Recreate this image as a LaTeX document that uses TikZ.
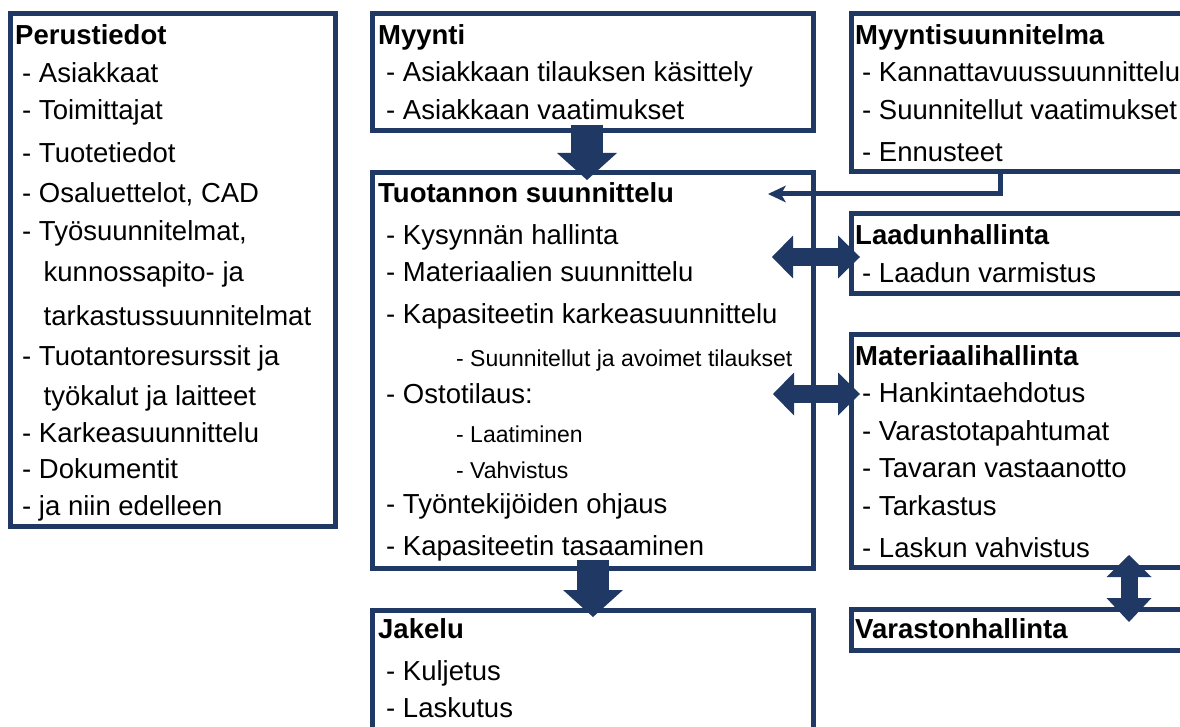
\documentclass[tikz,border=0pt]{standalone}
\usepackage{fontspec}
\setmainfont{Liberation Sans}
\usetikzlibrary{arrows.meta,calc}
\definecolor{navy}{HTML}{1F3864}
\tikzset{
  box/.style={draw=navy, line width=5pt, fill=white, inner sep=0pt, outer sep=0pt, anchor=north west},
  ttl/.style={anchor=base west, inner sep=0pt, font=\fontsize{27.5}{30}\selectfont\bfseries},
  itm/.style={anchor=base west, inner sep=0pt, font=\fontsize{27.5}{30}\selectfont},
  sml/.style={anchor=base west, inner sep=0pt, font=\fontsize{23}{26}\selectfont},
  fatdown/.style={draw=navy, line width=32pt, -{Triangle[length=27pt,width=60pt,line width=0pt]}},
  fatboth/.style={draw=navy, line width=18pt, {Triangle[length=21pt,width=43pt,line width=0pt]}-{Triangle[length=22pt,width=43pt,line width=0pt]}},
  fatvert/.style={draw=navy, line width=17pt, {Triangle[length=22pt,width=45pt,line width=0pt]}-{Triangle[length=24pt,width=45pt,line width=0pt]}},
  thinline/.style={draw=navy, line width=5pt},
  thinhead/.style={fill=navy, draw=none}
}
\begin{document}
\begin{tikzpicture}[x=1pt,y=-1pt]
\clip (0,0) rectangle (1180,727);
\fill[white] (0,0) rectangle (1180,727);
% boxes
\node[box, minimum width=325pt, minimum height=512pt] (perus) at (10,14) {};
\node[box, minimum width=441pt, minimum height=117pt] (myynti) at (372,14) {};
\node[box, minimum width=441pt, minimum height=395pt] (tuot) at (372,173) {};
\node[box, minimum width=441pt, minimum height=130pt] (jakelu) at (372,610) {};
\node[box, minimum width=345pt, minimum height=158pt] (myys) at (851,14) {};
\node[box, minimum width=345pt, minimum height=79pt] (laadun) at (851,214) {};
\node[box, minimum width=345pt, minimum height=233pt] (mat) at (851,334) {};
\node[box, minimum width=345pt, minimum height=41pt] (varast) at (851,609) {};
% connectors
\draw[fatdown] ($(myynti.south)+(-5.5,-6)$) -- ($(tuot.north)+(-5.5,7)$);
\draw[fatdown] ($(tuot.south)+(0.5,-8)$) -- ($(jakelu.north)+(0.5,7)$);
\draw[fatboth] ($(tuot.east |- laadun.west)+(-41,3.5)$) -- ($(laadun.west)+(9,3.5)$);
\draw[fatboth] ($(tuot.east |- mat.north)+(-40,60)$) -- ($(mat.north west)+(9,60)$);
\draw[fatvert] ($(mat.south west)+(278,-12)$) -- ($(varast.north west)+(278,13)$);
\coordinate (tipq) at ($(tuot.north east)+(-45,21)$);
\draw[thinline, line join=miter] ($(myys.south west)+(149,0)$) |- ($(tipq)+(12,0)$);
\fill[thinhead] (tipq) -- ++(18,-8.5) -- ++(-5,8.5) -- ++(5,8.5) -- cycle;
% texts
\foreach \x/\y/\t in {15/45/Perustiedot, 378/45/Myynti, 378/203/Tuotannon suunnittelu, 378/638/Jakelu,
  855/45/Myyntisuunnitelma, 855/245/Laadunhallinta, 855/365/Materiaalihallinta, 855/638/Varastonhallinta}
  \node[ttl] (tt-\x-\y) at (\x,\y) {\t};
\foreach \x/\y/\t in {22/83/- Asiakkaat, 22/120/- Toimittajat, 22/163/- Tuotetiedot, 22/203/{- Osaluettelot, CAD},
  22/241/{- Työsuunnitelmat,}, 43.5/282/kunnossapito- ja, 43.5/325/tarkastussuunnitelmat,
  22/365/- Tuotantoresurssit ja, 43.5/405/työkalut ja laitteet, 22/442/- Karkeasuunnittelu,
  22/478/- Dokumentit, 22/515/- ja niin edelleen,
  386/82/- Asiakkaan tilauksen käsittely, 386/120/- Asiakkaan vaatimukset,
  386/245/- Kysynnän hallinta, 386/282/- Materiaalien suunnittelu, 386/323/- Kapasiteetin karkeasuunnittelu,
  386/403/- Ostotilaus:, 386/513/- Työntekijöiden ohjaus, 386/555/- Kapasiteetin tasaaminen,
  386/680/- Kuljetus, 386/717/- Laskutus,
  862/82/- Kannattavuussuunnittelu, 862/120/- Suunnitellut vaatimukset, 862/162/- Ennusteet,
  862/283/- Laadun varmistus,
  862/402/- Hankintaehdotus, 862/440/- Varastotapahtumat, 862/477/- Tavaran vastaanotto,
  862/515/- Tarkastus, 862/557/- Laskun vahvistus}
  \node[itm] (ti-\x-\y) at (\x,\y) {\t};
\foreach \x/\y/\t in {456/366/- Suunnitellut ja avoimet tilaukset, 456/442/- Laatiminen, 456/478/- Vahvistus}
  \node[sml] (ts-\x-\y) at (\x,\y) {\t};
\end{tikzpicture}
\end{document}
